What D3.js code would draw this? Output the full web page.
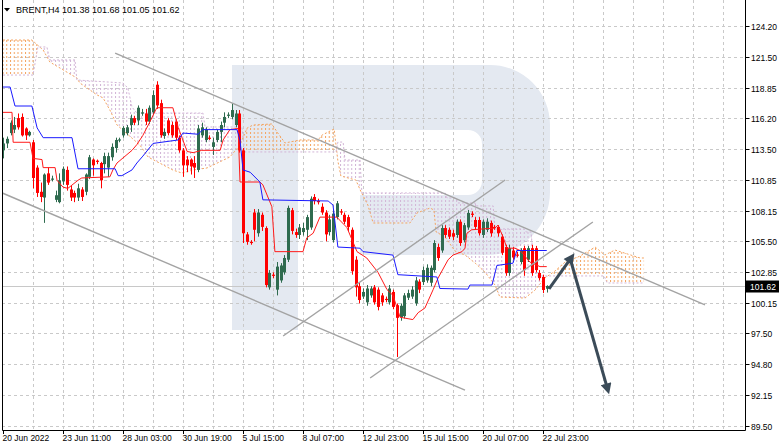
<!DOCTYPE html>
<html><head><meta charset="utf-8">
<script src="https://cdn.jsdelivr.net/npm/d3@7/dist/d3.min.js"></script>
<style>
html,body{margin:0;padding:0;background:#fff;}
svg{display:block;font-family:"Liberation Sans",Arial,sans-serif;}
</style>
</head><body>
<svg id="chart" width="782" height="448"></svg>
<script>
// ---------------- data ----------------
const symbolName = "BRENT,H4";
const lastBar = [101.38, 101.68, 101.05, 101.62];
const bidPrice = 101.62;

const opens = [113.4,114.0,114.9,115.2,116.2,116.3,115.3,114.7,114.1,111.9,109.8,109.3,111.4,110.9,109.1,108.9,110.7,111.7,110.0,109.7,
109.3,110.0,109.8,111.1,112.6,112.5,112.3,112.2,111.9,112.8,113.6,114.3,114.7,114.9,115.6,116.2,116.0,116.6,116.6,115.9,
116.7,119.1,117.5,114.65,116.0,115.6,115.9,114.5,113.4,112.6,112.6,112.3,111.7,114.7,114.3,114.5,113.7,114.3,115.0,115.8,
116.45,116.3,115.6,116.6,113.4,106.1,105.45,108.0,106.2,107.8,106.65,101.5,102.6,101.3,102.1,102.8,103.9,108.2,106.3,106.05,
106.3,106.5,106.7,109.35,109.0,108.5,108.0,106.3,105.6,107.6,108.1,107.8,107.6,106.5,103.9,101.6,100.7,100.2,100.8,101.5,
101.3,100.8,100.5,100.2,101.1,99.95,98.9,99.0,100.6,100.7,100.1,102.0,101.96,102.1,101.9,103.0,105.0,104.7,106.65,106.5,
106.2,106.05,107.2,105.6,106.7,107.9,107.35,107.35,106.05,106.5,107.1,106.75,106.75,105.9,105.0,102.75,104.7,104.35,103.7,104.9,
103.9,104.9,104.9,102.75,102.4,101.38];
const highs = [114.5,114.6,116.0,116.3,116.6,116.6,115.4,115.1,114.3,112.1,110.6,111.4,111.9,111.2,109.9,111.4,112.0,112.0,110.3,109.9,
110.5,110.2,111.4,113.0,112.7,112.6,112.4,113.2,113.2,114.0,114.5,114.5,115.5,115.6,116.5,116.4,117.3,117.0,117.0,117.3,
118.6,119.4,117.8,115.3,116.2,115.9,116.1,114.7,113.6,112.9,112.7,112.9,115.6,115.8,115.4,114.7,114.5,115.2,115.9,116.7,
116.7,117.5,116.9,116.9,113.6,106.3,105.6,108.3,108.3,108.0,106.8,103.0,102.8,103.7,103.6,104.3,108.6,108.4,106.6,107.0,
107.1,107.8,109.4,109.6,109.2,108.8,108.2,107.8,108.2,109.0,108.3,108.0,107.8,106.7,104.2,101.9,101.4,101.7,101.6,101.7,
101.5,101.0,100.7,101.7,101.3,100.1,100.1,101.0,101.3,101.6,102.4,102.2,103.3,103.5,103.4,105.6,105.3,106.9,106.9,106.7,
106.5,107.4,107.4,107.1,108.22,108.1,107.6,107.6,107.4,107.5,107.3,106.9,106.9,106.1,105.2,105.2,105.0,104.6,104.9,105.1,
105.1,105.2,105.1,103.0,102.6,101.68];
const lows = [112.7,113.6,114.7,114.9,115.2,114.6,114.3,114.6,110.1,109.35,108.9,107.1,110.4,110.7,108.9,108.8,110.4,109.9,109.0,108.9,
109.0,109.0,109.5,110.9,111.2,112.2,110.1,111.4,111.1,112.5,113.2,114.1,114.5,114.7,115.0,115.6,115.6,116.4,115.6,115.7,
116.5,117.0,114.5,114.4,114.7,114.5,114.3,113.2,111.1,111.5,111.3,111.0,111.5,114.5,114.1,114.3,113.0,114.1,114.1,115.4,
116.2,116.1,115.4,113.2,105.35,105.2,105.2,105.5,105.9,106.4,101.5,101.3,102.3,100.8,101.9,102.6,103.7,106.1,105.8,105.7,
106.0,105.6,106.5,108.7,108.7,107.8,105.5,106.0,105.4,107.4,107.8,107.0,106.4,102.6,100.7,100.1,100.5,99.9,100.6,100.0,
99.5,99.9,100.2,100.0,99.6,95.45,98.6,98.8,100.4,100.5,99.9,101.0,101.7,101.9,101.6,102.8,103.8,104.5,105.8,105.7,
105.6,105.8,105.1,105.4,106.5,107.6,106.5,106.0,105.8,106.3,105.9,106.5,105.9,104.3,102.5,102.5,103.9,104.1,103.5,102.5,
103.7,102.5,102.8,102.1,101.0,101.05];
const closes = [114.0,114.4,115.8,115.6,115.4,114.7,114.7,115.0,111.0,109.7,109.35,111.3,110.6,110.95,109.5,110.8,111.8,110.4,109.3,109.3,
110.1,109.35,111.3,112.8,112.1,112.4,110.8,112.9,112.9,113.7,114.3,114.35,115.35,115.4,116.2,115.8,117.1,116.7,115.9,117.1,
118.2,117.3,114.7,115.0,114.9,114.7,114.5,113.4,112.1,112.1,112.0,111.9,115.3,115.4,115.2,114.45,114.1,115.0,115.6,116.3,
116.5,116.9,116.6,113.4,106.2,105.45,105.4,106.5,108.0,106.75,101.7,102.75,102.5,103.3,103.4,104.05,108.4,106.4,106.05,106.7,
106.65,107.6,109.2,109.0,108.95,108.0,106.1,107.4,107.9,108.8,108.0,107.2,106.75,102.9,101.5,100.4,101.1,101.4,101.4,100.2,
99.8,100.2,100.45,101.4,99.8,98.85,99.9,100.8,101.0,101.3,102.1,101.3,103.0,103.2,103.2,105.35,104.05,106.65,106.05,105.9,
105.9,107.2,105.35,106.9,107.96,107.85,106.75,106.2,107.2,107.2,106.2,106.7,106.2,104.5,102.75,104.9,104.1,104.3,104.7,103.0,
104.9,102.75,103.0,102.3,101.27,101.62];

// Ichimoku lines, read as [bar index, price] breakpoints
const tenkanSen = [[0,116.7],[2.4,116.7],[2.7,114.1],[7.2,114.1],[8,112.7],[10.4,112.6],[10.7,111.9],[13.9,111.9],[14.4,110.8],[16,110.2],
[17.3,110.1],[20,110.8],[21,111.0],[28.5,111.1],[29.3,111.7],[30.4,112.3],[34.4,113.4],[35.7,113.9],[37.3,114.7],[39.2,115.9],
[41,117.1],[45.3,117.1],[46.7,115.4],[49.1,113.3],[50.7,113.2],[53,113.4],[57.9,113.4],[58.7,114.3],[60.5,115.2],[62.7,115.3],
[63.2,110.65],[68.5,110.65],[69.3,110.4],[71.7,108.5],[72.5,104.6],[80,104.6],[81,105.8],[82.7,106.2],[84.5,107.6],[89,107.6],
[91.7,106.7],[94.4,104.6],[97,104.05],[100,102.8],[102.4,101.3],[104,100.8],[105.9,98.9],[109.3,98.7],[110.7,99.3],[112.5,99.7],
[114.7,101.3],[116,102.3],[118.7,103.9],[120,104.3],[122.4,104.6],[123.2,104.9],[123.7,106.2],[125,106.5],[131.2,106.65],[132,106.9],
[133.3,105.9],[134.4,104.9],[136.5,104.9],[137.9,104.7],[140.5,103.7],[143.2,103.3],[145,103.3]];
const kijunSen = [[0,118.9],[1.9,118.9],[3.2,117.25],[7.7,117.25],[9.1,115.35],[10.7,114.5],[18.4,114.5],[20,111.8],[29.9,111.8],[30.7,111.2],
[31.7,111.2],[34.4,111.7],[35.7,112.3],[37.3,112.9],[40,114.0],[46.7,114.3],[48,114.9],[52,114.8],[53.3,115.2],[62.4,115.2],
[63.2,114.3],[64,111.7],[65.9,111.5],[68.5,110.65],[69.3,109.1],[86.7,109.0],[88,108.65],[89.3,105.0],[95.2,104.9],[96,104.6],
[104,104.3],[105.3,102.6],[115.7,102.4],[116.5,101.4],[124,101.35],[124.5,101.7],[130.4,101.7],[131.7,103.4],[136,103.6],[137,104.7],
[145,104.7]];
const senkouA = [[0,122.98],[7.7,122.98],[10.7,122.12],[12.5,121.07],[19.7,119.68],[20.5,119.25],[25.1,118.21],[26.7,117.95],[28.5,116.9],[30.4,115.6],
[36.5,113.86],[38.7,112.82],[45.3,111.69],[47.7,111.43],[50.7,111.69],[54.4,111.87],[60.5,112.82],[63.2,113.86],[65.1,115.34],[66.7,115.6],
[71.7,115.69],[73.1,114.99],[75.2,114.04],[79.2,114.3],[84,114.3],[85.1,114.73],[88.3,115.25],[89.3,112.47],[90.1,111.17],[94.1,110.82],
[95.5,109.78],[97.3,108.65],[98.7,107.09],[108.5,107.09],[110.4,107.96],[113.9,108.39],[114.9,108.22],[115.5,106.31],[117.9,105.87],[120.5,104.66],
[123.2,104.31],[125.9,103.61],[128.5,102.83],[131.2,101.7],[132.5,100.66],[139.2,100.57],[141.9,101.27],[144.5,102.31],[147.2,102.92],[149.9,103.7],
[153.9,104.22],[157.9,105.0],[160.5,104.31],[163.2,104.74],[169.9,104.05],[171,104.05]];
const senkouB = [[0,119.94],[8,119.94],[9.3,122.38],[11.7,122.38],[12.5,121.25],[19.2,121.25],[19.7,119.51],[32,119.25],[33.3,118.81],[34.4,117.16],
[35.7,116.64],[53.3,116.64],[53.9,115.43],[63.7,115.43],[64.5,113.26],[88.8,113.26],[89.3,114.12],[90.7,114.12],[91.2,112.56],[95.2,112.56],
[95.7,109.7],[117.9,109.7],[118.4,109.26],[120.8,109.26],[121.3,108.83],[125.9,108.83],[126.4,108.57],[130.7,108.57],[131.2,106.57],[138.9,106.57],
[139.5,106.31],[140.8,106.31],[141.3,104.57],[141.9,104.57],[142.4,102.49],[160.3,102.49],[161.1,101.88],[171,101.88]];

// axis
const yTicks = [124.20,121.50,118.85,116.20,113.50,110.85,108.15,105.50,102.85,100.15,97.50,94.80,92.15,89.50];
const xTickBars = [0,16,32,48,64,80,96,112,128,144];
const xTickLabels = ["20 Jun 2022","23 Jun 11:00","28 Jun 03:00","30 Jun 19:00","5 Jul 15:00","8 Jul 07:00","12 Jul 23:00","15 Jul 15:00","20 Jul 07:00","22 Jul 23:00"];

// analyst drawings: [bar index, price]
const trendLines = [
  [[29.9,121.85],[187.2,99.97]],
  [[-0.8,109.78],[123.2,92.58]],
  [[74.7,97.27],[133.9,110.82]],
  [[97.9,93.63],[157.3,107.18]]
];
const forecastArrows = [
  [[145.6,101.36],[151.7,104.14]],
  [[151.5,103.7],[161.3,92.58]]
];

// ---------------- layout ----------------
const L = 2, R = 745, T = 0, B = 430;
const svg = d3.select("#chart");
const x = d3.scaleLinear().domain([0,198]).range([3,745.5]);
const y = d3.scaleLinear().domain([89.5,124.2]).range([425.5,26]);

const defs = svg.append("defs");
defs.append("clipPath").attr("id","plotClip").append("rect")
  .attr("x",L).attr("y",T).attr("width",R-L).attr("height",B-T);

function hatch(id,color){
  const p = defs.append("pattern").attr("id",id).attr("patternUnits","userSpaceOnUse")
    .attr("x",x(0)-0.5).attr("y",0).attr("width",x(1)-x(0)).attr("height",4);
  p.append("rect").attr("x",0).attr("y",0).attr("width",1).attr("height",2).attr("fill",color);
}
const colA = "#f4a460", colB = "#d2b4d6";
hatch("hatchA",colA); hatch("hatchB",colB);

function poly(pts, edge){
  const a = pts.map(d=>[x(d[0]),y(d[1])]);
  return "M"+x(pts[0][0])+","+edge+"L"+a.map(p=>p.join(",")).join("L")+"L"+x(pts[pts.length-1][0])+","+edge+"Z";
}
defs.append("clipPath").attr("id","aboveB").append("path").attr("d",poly(senkouB,-10));
defs.append("clipPath").attr("id","aboveA").append("path").attr("d",poly(senkouA,-10));

const arrowCol = "#3b4b58";
defs.append("marker").attr("id","arrowHead").attr("viewBox","0 0 10 10")
  .attr("refX",6).attr("refY",5).attr("markerWidth",13).attr("markerHeight",11)
  .attr("markerUnits","userSpaceOnUse").attr("orient","auto")
  .append("path").attr("d","M0,0 L10,5 L0,10 Z").attr("fill",arrowCol);

svg.append("rect").attr("width",782).attr("height",448).attr("fill","#fff");

const plot = svg.append("g").attr("clip-path","url(#plotClip)");

// watermark
plot.append("path").attr("fill","#e4e9f1")
  .attr("d","M232,65H298V330H232Z M298,65H490A60,60 0 0 1 550,125V192A63,63 0 0 1 487,255H360V195H468A14,14 0 0 0 482,181V144A14,14 0 0 0 468,130H298Z");

// grid
const gridG = plot.append("g").attr("stroke","#c9c9c9").attr("stroke-width",1).attr("stroke-dasharray","3,3");
yTicks.forEach(v=>{
  const yy = Math.round(y(v))+0.5;
  gridG.append("line").attr("x1",L).attr("x2",R).attr("y1",yy).attr("y2",yy);
});
for(let b=8;b<=196;b+=8){
  const xx = Math.round(x(b))+0.5;
  gridG.append("line").attr("x1",xx).attr("x2",xx).attr("y1",T).attr("y2",B);
}

// bid line
plot.append("line").attr("x1",L).attr("x2",R).attr("y1",Math.round(y(bidPrice))+0.5).attr("y2",Math.round(y(bidPrice))+0.5)
  .attr("stroke","#c8c8c8").attr("stroke-width",1);

// cloud
plot.append("path").attr("d",poly(senkouA,B+10)).attr("fill","url(#hatchA)").attr("clip-path","url(#aboveB)");
plot.append("path").attr("d",poly(senkouB,B+10)).attr("fill","url(#hatchB)").attr("clip-path","url(#aboveA)");
const ln = d3.line().x(d=>x(d[0])).y(d=>y(d[1]));
plot.append("path").attr("d",ln(senkouA)).attr("fill","none").attr("stroke",colA).attr("stroke-width",1).attr("stroke-dasharray","2,2");
plot.append("path").attr("d",ln(senkouB)).attr("fill","none").attr("stroke",colB).attr("stroke-width",1).attr("stroke-dasharray","2,2");

// candles
const bull = "#2f6b4f", bear = "#ff0000";
const cg = plot.append("g");
opens.forEach((o,i)=>{
  const c = closes[i], h = highs[i], l = lows[i];
  const col = c >= o ? bull : bear;
  const cx = Math.round(x(i))+0.5;
  cg.append("line").attr("x1",cx).attr("x2",cx).attr("y1",y(h)).attr("y2",y(l)).attr("stroke",col).attr("stroke-width",1);
  const top = Math.min(y(o),y(c)), hgt = Math.max(1.2,Math.abs(y(o)-y(c)));
  cg.append("rect").attr("x",cx-1.5).attr("width",3).attr("y",top).attr("height",hgt).attr("fill",col);
});

// tenkan / kijun
plot.append("path").attr("d",ln(tenkanSen)).attr("fill","none").attr("stroke","#ff1a1a").attr("stroke-width",1);
plot.append("path").attr("d",ln(kijunSen)).attr("fill","none").attr("stroke","#1a1aff").attr("stroke-width",1);

// trend lines
trendLines.forEach(t=>{
  plot.append("line").attr("x1",x(t[0][0])).attr("y1",y(t[0][1])).attr("x2",x(t[1][0])).attr("y2",y(t[1][1]))
    .attr("stroke","#a3a3a3").attr("stroke-width",1.4);
});
// arrows
forecastArrows.forEach(t=>{
  plot.append("line").attr("x1",x(t[0][0])).attr("y1",y(t[0][1])).attr("x2",x(t[1][0])).attr("y2",y(t[1][1]))
    .attr("stroke",arrowCol).attr("stroke-width",3).attr("marker-end","url(#arrowHead)");
});

// frame
svg.append("path").attr("d",`M${L+0.5},${T}V${B+0.5}H${R+0.5}V${T}`).attr("fill","none").attr("stroke","#000").attr("stroke-width",1);

// y axis
const ya = svg.append("g").attr("font-size","8.5px").attr("fill","#000");
yTicks.forEach(v=>{
  const yy = Math.round(y(v))+0.5;
  ya.append("line").attr("x1",R+0.5).attr("x2",R+4.5).attr("y1",yy).attr("y2",yy).attr("stroke","#000");
  ya.append("text").attr("x",751).attr("y",yy+3).text(v.toFixed(2));
});
const by = Math.round(y(bidPrice))+0.5;
svg.append("rect").attr("x",746).attr("y",by-6).attr("width",33).attr("height",12).attr("fill","#000");
svg.append("text").attr("x",750).attr("y",by+3).attr("font-size","8.5px").attr("fill","#fff").text(bidPrice.toFixed(2));

// x axis
const xa = svg.append("g").attr("font-size","8.5px").attr("fill","#000");
xTickBars.forEach((b,k)=>{
  const xx = Math.round(x(b))+0.5;
  xa.append("line").attr("x1",xx).attr("x2",xx).attr("y1",B).attr("y2",B+4).attr("stroke","#000");
  xa.append("text").attr("x",xx-1).attr("y",441).text(xTickLabels[k]);
});

// header
svg.append("path").attr("d","M4,8H10L7,11.5Z").attr("fill","#000");
svg.append("text").attr("x",16).attr("y",12.5).attr("font-size","9px").attr("fill","#000")
  .text(symbolName+"  "+lastBar.map(v=>v.toFixed(2)).join(" "));
</script>
</body></html>
